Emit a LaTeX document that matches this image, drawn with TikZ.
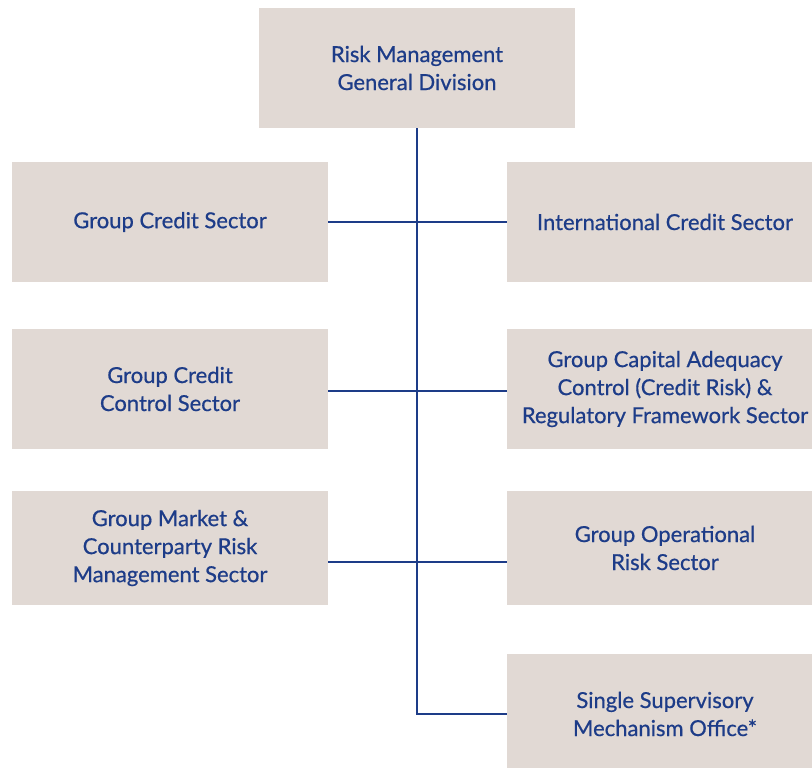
\documentclass[tikz,border=0pt]{standalone}
\usepackage{fontspec}
\setmainfont{Lato}
\newfontfamily\unitfont{Lato}[FakeBold=0.6, BoldFont={Lato}]
\usepackage{tikz}
\usetikzlibrary{positioning}

\definecolor{boxfill}{HTML}{E1D9D4}
\definecolor{navy}{HTML}{1D3C88}

\tikzset{
    unit/.style={fill=boxfill, text=navy, align=center, font=\unitfont\bfseries\fontsize{22}{28}\selectfont,
        minimum width=316pt, minimum height=120pt, inner sep=0pt},
    link/.style={navy, line width=2.4pt}
}

\begin{document}
\begin{tikzpicture}[x=1pt, y=-1pt]
    \useasboundingbox (0,0) rectangle (812,768);
    \clip (0,0) rectangle (812,768);

    % The division at the top
    \node[unit] (division) at (417, 68) {Risk Management\\General Division};

    % Sectors on the left
    \node[unit] (groupcredit) at (170, 222) {Group Credit Sector};
    \node[unit] (creditcontrol) at (170, 389) {Group Credit\\Control Sector};
    \node[unit, minimum height=114pt] (marketrisk) at (170, 548) {Group Market \&\\Counterparty Risk\\Management Sector};

    % Sectors on the right
    \node[unit] (intcredit) at (665, 222) {International Credit Sector};
    \node[unit] (capital) at (665, 389) {Group Capital Adequacy\\Control (Credit Risk) \&\\Regulatory Framework Sector};
    \node[unit, minimum height=114pt] (oprisk) at (665, 548) {Group Operational\\Risk Sector};
    \node[unit] (ssm) at (665, 714) {Single Supervisory\\Mechanism Office*};

    % Connectors
    \draw[link] (division.south) |- (ssm.west);
    \draw[link] (groupcredit.east) -- (intcredit.west);
    \draw[link] ([yshift=-2pt]creditcontrol.east) -- ([yshift=-2pt]capital.west);
    \draw[link] ([yshift=-14pt]marketrisk.east) -- ([yshift=-14pt]oprisk.west);
\end{tikzpicture}
\end{document}
